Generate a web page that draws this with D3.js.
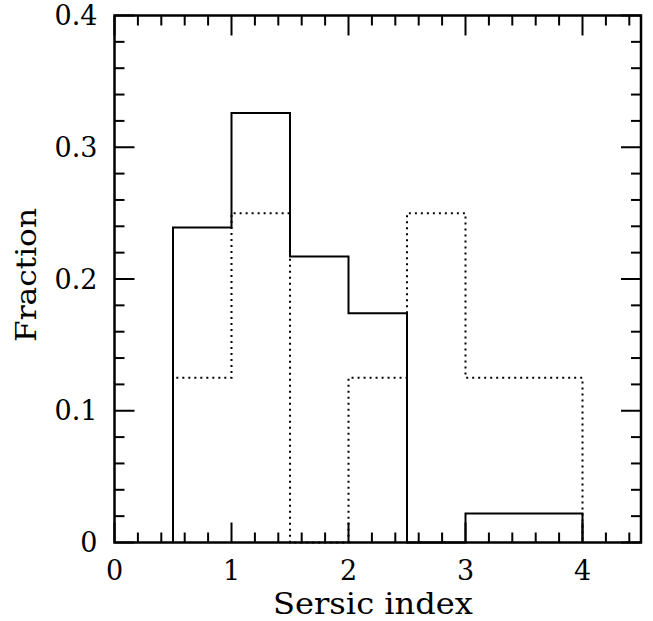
<!DOCTYPE html>
<html>
<head>
<meta charset="utf-8">
<script src="https://cdn.jsdelivr.net/npm/d3@7"></script>
<style>
  body { margin: 0; background: #fff; }
  svg { display: block; }
</style>
</head>
<body>
<div id="chart"></div>
<script>
// chart values
let binEdges = [0.5, 1, 1.5, 2, 2.5, 3, 3.5, 4]
let solidFrac = [0.239, 0.326, 0.217, 0.174, 0, 0.022, 0.022]
let dottedFrac = [0.125, 0.25, 0, 0.125, 0.25, 0.125, 0.125]
let xTicks = [0, 1, 2, 3, 4]
let yTicks = [0, 0.1, 0.2, 0.3, 0.4]

let width = 653, height = 621
let plotLeft = 114.5, plotRight = 641, plotTop = 15.5, plotBottom = 542.5

let svg = d3.select('#chart').append('svg')
  .attr('width', width)
  .attr('height', height)

let x = d3.scaleLinear().domain([0, 4.5]).range([plotLeft, plotRight])
let y = d3.scaleLinear().domain([0, 0.4]).range([plotBottom, plotTop])

let font = 'DejaVu Serif'

// ticks on all four sides, pointing inward
let xMinor = d3.range(0, 4.5001, 0.2).filter(v => Math.abs(v - Math.round(v)) > 1e-6)
let yMinor = d3.range(0, 0.4001, 0.02).filter(v => Math.abs(v * 10 - Math.round(v * 10)) > 1e-6)

let ticks = svg.append('g').attr('stroke', '#000').attr('stroke-width', 2)

function tickLines (vals, len, isX) {
  vals.forEach(function (v) {
    if (isX) {
      ticks.append('line').attr('x1', x(v)).attr('x2', x(v)).attr('y1', plotBottom).attr('y2', plotBottom - len)
      ticks.append('line').attr('x1', x(v)).attr('x2', x(v)).attr('y1', plotTop).attr('y2', plotTop + len)
    } else {
      ticks.append('line').attr('y1', y(v)).attr('y2', y(v)).attr('x1', plotLeft).attr('x2', plotLeft + len)
      ticks.append('line').attr('y1', y(v)).attr('y2', y(v)).attr('x1', plotRight).attr('x2', plotRight - len)
    }
  })
}
tickLines(xTicks, 20, true)
tickLines(xMinor, 10, true)
tickLines(yTicks, 20, false)
tickLines(yMinor, 10, false)

// histogram step paths
function stepPoints (vals) {
  let pts = [[binEdges[0], 0]]
  vals.forEach(function (v, i) {
    pts.push([binEdges[i], v])
    pts.push([binEdges[i + 1], v])
  })
  pts.push([binEdges[binEdges.length - 1], 0])
  return pts
}

let line = d3.line().x(d => x(d[0])).y(d => y(d[1]))

svg.append('path')
  .attr('d', line(stepPoints(dottedFrac)))
  .attr('fill', 'none')
  .attr('stroke', '#000')
  .attr('stroke-width', 2)
  .attr('stroke-dasharray', '2,4')

svg.append('path')
  .attr('d', line(stepPoints(solidFrac)))
  .attr('fill', 'none')
  .attr('stroke', '#000')
  .attr('stroke-width', 2)

// frame
svg.append('rect')
  .attr('x', plotLeft).attr('y', plotTop)
  .attr('width', plotRight - plotLeft).attr('height', plotBottom - plotTop)
  .attr('fill', 'none')
  .attr('stroke', '#000')
  .attr('stroke-width', 2.5)

// tick labels
svg.selectAll('.xlab').data(xTicks).enter().append('text')
  .attr('x', d => x(d))
  .attr('y', plotBottom + 37.5)
  .attr('text-anchor', 'middle')
  .style('font-family', font)
  .style('font-size', '27px')
  .text(d => d)

svg.selectAll('.ylab').data(yTicks).enter().append('text')
  .attr('x', plotLeft - 17)
  .attr('y', d => y(d) + 9.5)
  .attr('text-anchor', 'end')
  .style('font-family', font)
  .style('font-size', '27px')
  .text(d => d === 0 ? '0' : d.toFixed(1))

// axis titles
svg.append('text')
  .attr('x', 373)
  .attr('y', 614)
  .attr('text-anchor', 'middle')
  .attr('textLength', 200)
  .attr('lengthAdjust', 'spacingAndGlyphs')
  .style('font-family', font)
  .style('font-size', '30px')
  .text('Sersic index')

svg.append('text')
  .attr('transform', 'translate(36,275) rotate(-90)')
  .attr('text-anchor', 'middle')
  .attr('textLength', 134)
  .attr('lengthAdjust', 'spacingAndGlyphs')
  .style('font-family', font)
  .style('font-size', '27px')
  .text('Fraction')
</script>
</body>
</html>
